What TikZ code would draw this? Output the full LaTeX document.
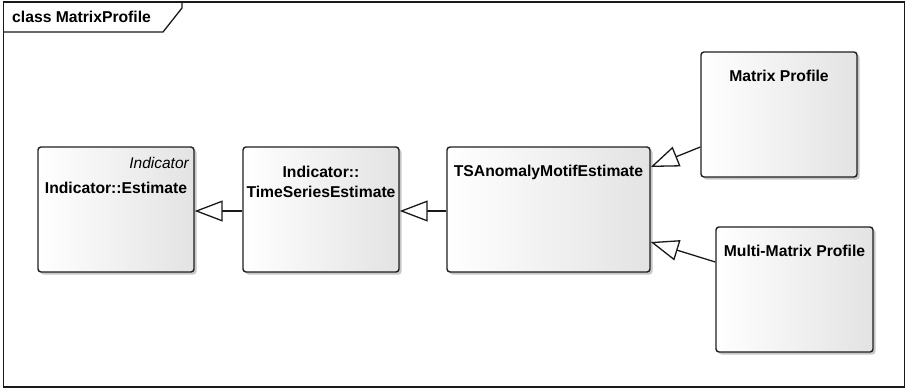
\documentclass[tikz,border=0pt]{standalone}
\usepackage{fontspec}
\setmainfont{Liberation Sans}
\usetikzlibrary{arrows.meta,shadows}

\tikzset{
  umlbox/.style={draw=black!88, line width=1.4pt, rounded corners=3pt,
    left color=white, right color=black!11, shading angle=90,
    drop shadow={shadow xshift=2.5pt, shadow yshift=-2.5pt, fill=black!22, opacity=1},
    inner sep=0pt},
  lbl/.style={font=\fontsize{15.7}{18}\selectfont\bfseries, inner sep=0pt},
  stereo/.style={font=\fontsize{15.5}{18}\selectfont\itshape, inner sep=0pt},
  gen/.style={draw=black!90, line width=1.3pt,
    -{Triangle[open, length=28pt, width=21pt, fill=white]}},
  framebox/.style={draw=black!90, line width=1.3pt}
}

\begin{document}
\begin{tikzpicture}[x=1pt, y=-1pt]
  \useasboundingbox (0,0) rectangle (906,389);

  % diagram frame and its name tab
  \draw[framebox] (3.5,2) rectangle (904.5,387);
  \draw[framebox] (3.5,32) -- (163,32) -- (182,8) -- (182,2);
  \node[lbl, anchor=west] (title) at (12,17) {class MatrixProfile};

  % classes
  \node[umlbox, minimum width=156pt, minimum height=125pt] (est) at (116,209.5) {};
  \node[umlbox, minimum width=156pt, minimum height=125pt] (ts) at (321,209.5) {};
  \node[umlbox, minimum width=203pt, minimum height=125pt] (tsa) at (548.5,209.5) {};
  \node[umlbox, minimum width=156pt, minimum height=125pt] (mp) at (779,114.5) {};
  \node[umlbox, minimum width=157pt, minimum height=125pt] (mm) at (794.5,289.5) {};

  % class labels
  \node[stereo, anchor=east] (estns) at (189,163) {Indicator};
  \node[lbl] (estname) at (116,188) {Indicator::Estimate};
  \node[lbl] (tsns) at (321,172) {Indicator::};
  \node[lbl] (tsname) at (321,192) {TimeSeriesEstimate};
  \node[lbl] (tsaname) at (548.5,172) {TSAnomalyMotifEstimate};
  \node[lbl] (mpname) at (779,76) {Matrix Profile};
  \node[lbl] (mmname) at (794.5,251) {Multi-Matrix Profile};

  % generalisations
  \draw[gen] ([yshift=-1.5pt]ts.west) -- ([yshift=-1.5pt]est.east);
  \draw[gen] ([yshift=-1.5pt]tsa.west) -- ([yshift=-1.5pt]ts.east);
  \draw[gen] ([yshift=-32.5pt]mp.west) -- ([yshift=42.5pt]tsa.east);
  \draw[gen] ([yshift=27.5pt]mm.west) -- ([yshift=-32.5pt]tsa.east);
\end{tikzpicture}
\end{document}
